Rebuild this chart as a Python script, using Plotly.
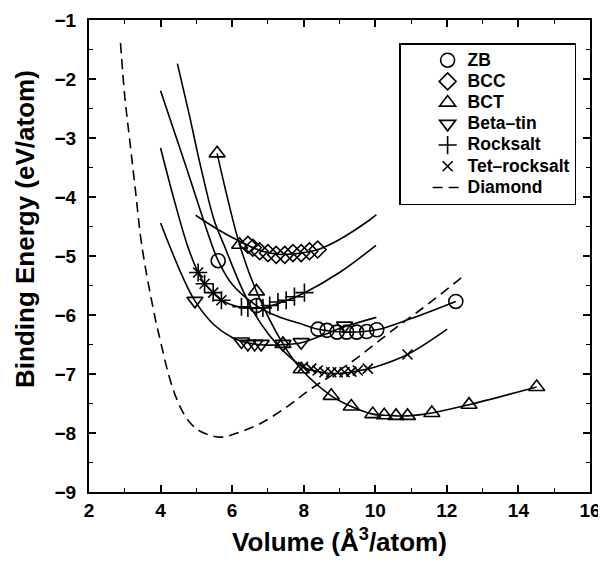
import plotly.graph_objects as go

# ---------------- data ----------------
# Diamond (dashed curve, no markers)
dia_x = [2.88, 3.0, 3.14, 3.3, 3.48, 3.83, 4.0, 4.22, 4.41, 4.6, 4.83, 5.11, 5.67, 6.23, 6.79, 7.5, 8.16, 9.28, 10.59, 11.31, 12.51]
dia_y = [-1.39, -2.3, -3.05, -3.9, -4.84, -6.0, -6.45, -7.0, -7.36, -7.62, -7.83, -7.97, -8.07, -7.98, -7.84, -7.57, -7.27, -6.82, -6.21, -5.89, -5.32]

# ZB
zb_fit_x = [4.0, 4.68, 5.45, 5.61, 6.0, 6.68, 7.3, 7.88, 8.4, 9.2, 10.04, 11.0, 12.25]
zb_fit_y = [-2.2, -3.43, -4.84, -5.08, -5.48, -5.84, -6.03, -6.14, -6.24, -6.29, -6.25, -6.06, -5.77]
zb_x = [5.61, 6.68, 8.4, 8.65, 8.93, 9.2, 9.48, 9.76, 10.04, 12.25]
zb_y = [-5.08, -5.84, -6.24, -6.26, -6.29, -6.29, -6.29, -6.28, -6.25, -5.77]

# BCC
bcc_fit_x = [4.98, 5.6, 6.21, 6.8, 7.3, 7.8, 8.4, 9.0, 9.84, 10.03]
bcc_fit_y = [-4.31, -4.55, -4.75, -4.91, -4.97, -4.96, -4.89, -4.72, -4.39, -4.3]
bcc_x = [6.44, 6.58, 6.77, 7.0, 7.23, 7.47, 7.70, 7.93, 8.16, 8.39]
bcc_y = [-4.81, -4.86, -4.92, -4.95, -4.98, -4.98, -4.95, -4.95, -4.92, -4.89]

# BCT (markers joined by a line)
bct_x = [5.58, 6.21, 6.68, 7.42, 7.93, 8.77, 9.33, 9.93, 10.25, 10.58, 10.9, 11.58, 12.62, 14.51]
bct_y = [-3.26, -4.81, -5.6, -6.49, -6.92, -7.37, -7.55, -7.68, -7.7, -7.71, -7.71, -7.66, -7.52, -7.22]

# Beta-tin
bt_fit_x = [4.0, 4.26, 4.6, 4.96, 5.5, 6.0, 6.5, 7.0, 7.5, 7.93, 8.5, 9.14, 10.03]
bt_fit_y = [-4.44, -4.84, -5.33, -5.76, -6.17, -6.38, -6.48, -6.51, -6.5, -6.47, -6.35, -6.2, -6.04]
bt_x = [4.96, 6.26, 6.44, 6.63, 6.81, 7.42, 7.93, 9.14]
bt_y = [-5.76, -6.45, -6.49, -6.49, -6.49, -6.49, -6.46, -6.18]

# Rocksalt
rs_fit_x = [4.0, 4.38, 4.76, 5.05, 5.23, 5.47, 5.7, 6.0, 6.26, 6.6, 7.0, 7.5, 8.0, 9.0, 10.02]
rs_fit_y = [-3.17, -4.05, -4.84, -5.28, -5.47, -5.62, -5.75, -5.83, -5.87, -5.89, -5.86, -5.76, -5.63, -5.28, -4.82]
rs_x = [5.05, 5.23, 5.47, 5.70, 6.26, 6.44, 6.68, 6.86, 7.05, 7.28, 7.51, 7.74, 8.02]
rs_y = [-5.28, -5.47, -5.62, -5.75, -5.86, -5.88, -5.88, -5.88, -5.84, -5.78, -5.75, -5.69, -5.62]

# Tet-rocksalt
trs_fit_x = [4.47, 4.8, 5.1, 5.5, 5.79, 6.2, 6.6, 7.05, 7.5, 7.98, 8.5, 9.0, 9.5, 10.0, 10.9, 12.01]
trs_fit_y = [-1.74, -2.6, -3.43, -4.4, -4.84, -5.45, -5.95, -6.35, -6.65, -6.88, -6.97, -6.99, -6.95, -6.88, -6.67, -6.24]
trs_x = [5.05, 5.23, 5.47, 5.70, 7.98, 8.21, 8.39, 8.58, 8.77, 8.95, 9.14, 9.33, 9.51, 9.79, 10.9]
trs_y = [-5.28, -5.47, -5.62, -5.75, -6.88, -6.91, -6.94, -6.97, -6.97, -6.97, -6.97, -6.96, -6.94, -6.91, -6.67]

x_ticks = [2, 4, 6, 8, 10, 12, 14, 16]
y_ticks = [-9, -8, -7, -6, -5, -4, -3, -2, -1]

# ---------------- figure ----------------
FONT = "Liberation Sans"
BLACK = "black"
LW = 1.6
fig = go.Figure()

def curve(x, y):
    fig.add_trace(go.Scatter(x=x, y=y, mode="lines", showlegend=False, hoverinfo="skip",
                             line=dict(color=BLACK, width=LW, shape="spline")))

def lbl(s):
    return '<span style="font-size:17.5px">' + s + '</span>'

def pts(x, y, name, symbol, size=13):
    fig.add_trace(go.Scatter(x=x, y=y, mode="markers", name=lbl(name),
                             marker=dict(symbol=symbol, size=size, color=BLACK,
                                         line=dict(color=BLACK, width=1.6))))

curve(zb_fit_x, zb_fit_y)
curve(bcc_fit_x, bcc_fit_y)
curve(bct_x, bct_y)
curve(bt_fit_x, bt_fit_y)
curve(rs_fit_x, rs_fit_y)
curve(trs_fit_x, trs_fit_y)

pts(zb_x, zb_y, "ZB", "circle-open", 14)
pts(bcc_x, bcc_y, "BCC", "diamond-open", 13)
pts(bct_x, bct_y, "BCT", "triangle-up-open", 14)
pts(bt_x, bt_y, "Beta\u2013tin", "triangle-down-open", 14)
pts(rs_x, rs_y, "Rocksalt", "cross-thin-open", 13)
pts(trs_x, trs_y, "Tet\u2013rocksalt", "x-thin-open", 10)

fig.add_trace(go.Scatter(x=dia_x, y=dia_y, mode="lines", name=lbl("Diamond"),
                         line=dict(color=BLACK, width=LW, dash="10px,6px", shape="spline")))

axis_common = dict(showline=True, linecolor=BLACK, linewidth=2, mirror="ticks",
                   ticks="inside", ticklen=7, tickwidth=1.5, tickcolor=BLACK,
                   showgrid=False, zeroline=False, automargin=False,
                   tickfont=dict(family=FONT, size=19, color=BLACK, weight="bold"),
                   minor=dict(ticks="inside", ticklen=4, tickwidth=1.2, tickcolor=BLACK))

fig.update_xaxes(range=[2, 16], tickvals=x_ticks, minor_dtick=1, **axis_common,
                 title=dict(text="Volume (\u00c5<sup>3</sup>/atom)", standoff=13,
                            font=dict(family=FONT, size=26, color=BLACK, weight="bold")))
fig.update_yaxes(range=[-9, -1], tickvals=y_ticks, minor_dtick=0.5, ticklabelstandoff=7,
                 **axis_common)

fig.update_layout(
    width=606, height=567,
    margin=dict(l=81, r=24, t=12, b=83),
    plot_bgcolor="white", paper_bgcolor="white",
    font=dict(family=FONT, color=BLACK),
    legend=dict(x=0.619, y=0.951, xanchor="left", yanchor="top",
                bordercolor=BLACK, borderwidth=1.5, bgcolor="white",
                indentation=27, tracegroupgap=0, itemsizing="trace",
                font=dict(family=FONT, size=14, color=BLACK, weight="bold")),
    annotations=[dict(text="Binding Energy (eV/atom)", textangle=-90,
                      xref="paper", yref="paper", x=-0.128, y=0.557,
                      xanchor="center", yanchor="middle", showarrow=False,
                      font=dict(family=FONT, size=26, color=BLACK, weight="bold"))],
)

fig.write_html("out.html")
